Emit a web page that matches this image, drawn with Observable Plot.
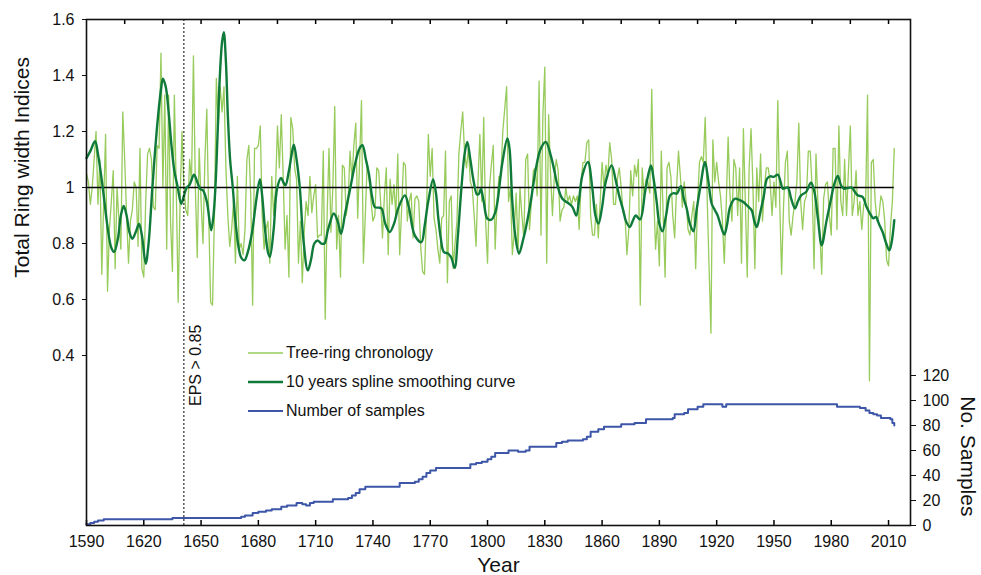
<!DOCTYPE html>
<html>
<head>
<meta charset="utf-8">
<script src="https://cdn.jsdelivr.net/npm/d3@7"></script>
<script src="https://cdn.jsdelivr.net/npm/@observablehq/plot@0.6"></script>
<style>
  html, body { margin: 0; padding: 0; background: #fff; }
  #wrap { position: relative; width: 981px; height: 575px; font-family: "Liberation Sans", Arial, Helvetica, sans-serif; }
  #legend { position: absolute; left: 248px; top: 338px; font-size: 16px; color: #111; }
  .row { display: flex; align-items: center; height: 29px; }
  .row svg { margin-right: 3px; }
</style>
</head>
<body>
<div id="wrap"><div id="chart"></div>
<div id="legend"></div></div>
<script>
// ---------- data ----------
const chronStart = 1590;
const chronology = [
  1.05,1.02,0.94,1.00,1.10,1.20,0.94,1.10,0.69,0.95,
  1.19,0.63,0.85,0.95,1.06,0.71,1.00,0.88,0.78,1.27,
  1.10,0.90,0.73,0.88,0.92,1.02,1.00,0.79,1.14,0.71,
  0.68,0.95,1.12,1.14,1.10,0.93,0.92,1.15,1.14,1.48,
  1.00,1.33,0.78,1.33,0.88,0.70,1.33,1.00,0.59,0.95,
  1.20,1.00,0.92,0.90,1.10,1.02,1.47,1.00,0.75,1.14,
  0.95,0.80,1.10,1.28,0.90,0.59,0.58,0.90,1.39,1.22,
  1.36,1.27,1.36,1.07,0.90,0.79,0.85,0.95,0.73,1.04,
  0.78,0.80,0.76,0.85,1.10,1.15,0.97,0.58,1.14,1.14,
  1.15,1.22,0.90,0.78,0.85,0.88,0.73,1.04,0.90,1.00,
  1.22,1.07,1.26,1.04,0.78,0.90,0.68,1.25,1.21,1.07,
  1.03,0.73,0.88,0.66,0.84,0.95,0.90,1.04,0.91,0.97,
  1.01,0.82,0.83,0.83,1.13,0.53,0.90,1.14,0.84,1.00,
  1.29,0.78,0.90,0.68,1.08,1.07,0.90,0.95,1.13,1.03,
  1.15,1.23,0.89,1.09,1.31,0.73,0.90,1.09,1.03,0.95,
  0.88,0.90,1.07,1.06,0.95,0.82,0.97,1.07,0.76,1.03,
  0.94,1.01,0.90,1.12,0.76,0.92,1.09,1.08,0.88,0.95,
  0.98,0.82,0.96,0.97,0.95,0.79,0.70,0.69,0.90,1.19,
  1.04,1.14,0.89,0.85,0.78,0.73,0.89,0.90,1.13,0.66,
  0.95,0.97,0.71,0.80,0.88,1.12,1.20,1.27,1.12,1.07,
  1.14,1.02,1.00,0.90,0.79,1.02,1.19,0.95,1.25,0.88,
  0.73,1.00,1.08,1.15,0.78,0.95,1.04,1.04,1.20,1.28,
  1.36,0.95,1.00,0.76,0.84,0.98,0.78,1.00,0.90,0.82,
  1.10,1.12,0.85,0.95,1.06,1.07,0.97,1.38,0.83,1.26,
  1.43,0.73,1.26,1.05,0.90,1.04,1.10,1.06,0.88,0.92,
  0.93,1.00,0.95,0.97,0.94,0.97,0.95,0.97,0.85,1.02,
  1.09,1.09,1.16,1.17,0.90,0.83,0.83,0.94,0.82,0.95,
  1.09,1.00,1.08,1.04,1.16,1.10,0.94,0.94,1.03,1.07,
  1.00,0.91,0.90,0.76,0.85,1.06,0.97,1.08,1.04,1.10,
  0.58,1.07,0.97,1.03,1.02,0.98,1.35,0.98,0.78,0.88,
  0.72,1.13,0.90,0.68,1.07,1.09,1.04,0.90,0.82,1.00,
  1.13,1.04,0.93,1.02,0.95,0.85,0.83,0.90,0.95,0.71,
  0.95,1.09,1.11,1.09,1.25,0.97,0.72,0.48,1.17,1.02,
  1.09,1.02,0.97,0.88,0.73,0.94,1.18,0.97,0.88,1.10,
  1.07,0.90,1.07,0.73,1.21,0.95,0.68,1.07,1.21,1.00,
  0.71,1.07,0.95,1.12,0.88,1.00,1.07,1.07,1.02,0.90,
  1.02,0.93,1.31,0.95,0.69,0.93,1.09,1.13,0.88,0.83,
  0.90,0.95,1.02,1.23,0.95,0.85,0.95,0.97,1.13,1.13,
  1.00,0.71,1.12,0.95,0.84,0.69,0.96,1.01,1.02,0.90,
  0.83,1.14,1.14,0.85,1.22,0.95,0.90,1.10,0.90,1.06,
  1.22,0.90,0.95,1.06,0.90,0.95,0.85,0.94,0.95,1.33,
  0.31,1.09,1.10,0.95,0.88,0.90,0.97,0.95,0.88,0.74,
  0.72,0.86,0.95,1.14
];

const smoothYears = [1590,1592,1594.5,1596,1598.5,1601,1603,1604.5,1606.5,1608,1609.5,1611,1612.5,1614,1616,1617.5,1619,1621,1622.5,1624.5,1627,1629,1630,1631.5,1633,1634.5,1636,1637.8,1639.6,1641,1642.5,1644,1646.3,1648,1649.5,1651,1653,1655.3,1656.5,1657.5,1658.7,1659.7,1661,1661.9,1663,1664,1665.2,1666.6,1668,1669.8,1671,1672.7,1674.5,1676.7,1679,1680.8,1682,1683.5,1685,1686,1688,1689.8,1691.9,1693,1694.2,1696,1698,1698.6,1700,1701.7,1703.5,1705.9,1707.5,1709.3,1711,1713,1714.6,1716.5,1719.5,1721.5,1723.3,1725.5,1728.2,1730.5,1733,1734.5,1736.3,1738,1739.5,1741,1743,1744.5,1746.5,1748.8,1751,1753.2,1756.7,1758.8,1761.9,1765.4,1767,1768.9,1771.5,1773,1774.1,1775.5,1777.1,1779.4,1781,1782.8,1784.5,1786.3,1788,1789.4,1791,1792.8,1794.5,1795.6,1796.5,1798,1799.9,1802,1804,1805.2,1807.8,1810.4,1811.5,1813,1814.5,1816.5,1818.5,1820,1822.6,1825.3,1827.9,1830.5,1833.1,1835,1836.6,1839.2,1842.7,1844.5,1846.5,1848,1849.7,1852.6,1854.9,1856.5,1858.1,1860,1861.9,1865,1867,1868.9,1871,1872.5,1874.5,1876,1877.6,1879.9,1882.5,1884,1885.6,1887,1888.6,1890,1891.6,1893.5,1895.6,1897.5,1899.1,1901.3,1902.8,1904.3,1906,1907.8,1909.5,1911.3,1913.9,1915.5,1917.4,1919,1920.5,1922.3,1924,1925.5,1927,1929.6,1932,1934,1936,1938.3,1939.7,1941,1942.8,1944.6,1946.4,1948.1,1949.9,1952,1953.5,1954.6,1957.2,1959,1961,1962.5,1964.2,1966.8,1969.4,1971.2,1973,1975,1977.5,1979.9,1981.5,1983.4,1985,1986.5,1988.6,1990.7,1992.3,1993.8,1996.5,1998.5,2000.8,2002,2003.4,2005,2006.9,2008.8,2010.4,2011.5,2013];
const smoothValues = [1.105,1.13,1.165,1.12,1.0,0.86,0.785,0.77,0.82,0.9,0.934,0.9,0.84,0.817,0.845,0.87,0.83,0.728,0.8,1.0,1.22,1.35,1.389,1.36,1.27,1.15,1.06,1.0,0.942,0.97,1.0,1.01,1.046,1.02,0.995,0.99,0.95,0.847,0.9,1.0,1.2,1.38,1.52,1.555,1.45,1.26,1.1,1.0,0.88,0.78,0.75,0.74,0.77,0.84,0.96,1.03,0.97,0.85,0.77,0.752,0.85,0.996,1.034,1.02,1.008,1.06,1.14,1.153,1.1,1.0,0.82,0.704,0.74,0.8,0.811,0.8,0.8,0.85,0.907,0.88,0.835,0.91,1.0,1.08,1.14,1.151,1.1,1.044,0.97,0.93,0.928,0.925,0.87,0.841,0.87,0.925,0.972,0.93,0.829,0.805,0.86,0.948,1.029,0.98,0.9,0.82,0.77,0.764,0.75,0.713,0.83,0.996,1.12,1.163,1.1,1.02,0.975,0.978,0.996,0.95,0.889,0.885,0.91,0.948,1.09,1.175,1.14,0.948,0.83,0.764,0.81,0.853,0.948,1.067,1.139,1.163,1.115,1.06,1.008,0.96,0.942,0.93,0.90,0.96,1.044,1.091,0.996,0.9,0.871,0.93,1.02,1.079,1.03,0.972,0.92,0.88,0.859,0.88,0.90,0.886,0.984,1.04,1.079,1.03,0.948,0.87,0.844,0.9,0.972,0.98,0.978,1.005,0.96,0.925,0.87,0.844,0.92,0.996,1.091,1.03,0.942,0.92,0.90,0.86,0.832,0.87,0.93,0.96,0.955,0.948,0.935,0.919,0.88,0.859,0.91,0.966,1.032,1.04,1.038,1.046,1.02,0.996,1.0,0.96,0.925,0.95,0.972,0.984,1.017,0.984,0.89,0.794,0.88,0.96,1.01,1.041,1.01,0.996,0.998,1.0,0.985,0.972,0.966,0.93,0.901,0.89,0.895,0.87,0.841,0.8,0.776,0.8,0.883];

const sampleYears  = [1590,1592,1594,1596,1599,1635,1671,1673,1677,1680,1684,1687,1692,1695,1700,1703,1705,1707,1709,1719,1727,1729,1731,1733,1736,1754,1762,1764,1766,1768,1770,1773,1791,1794,1797,1800,1802,1804,1811,1816,1820,1822,1836,1839,1842,1850,1852,1854,1858,1861,1870,1877,1883,1897,1898,1903,1905,1910,1913,1923,1925,1983,1995,1998,2000,2002,2004,2006,2011,2012,2013];
const sampleCounts = [1,2,3,4,5,6,7,8,10,11,12,13,15,16,18,17,16,18,19,21,22,24,26,29,31,34,35,37,39,42,44,46,49,50,51,53,55,58,60,59,60,63,66,67,68,69,71,75,77,79,81,82,85,86,89,90,93,95,97,95,97,95,94,92,90,89,88,86,85,82,80];

const xTickLabels = [1590,1620,1650,1680,1710,1740,1770,1800,1830,1860,1890,1920,1950,1980,2010];
const xTopTicks = [1610,1630,1650,1670,1690,1710,1730,1750,1770,1790,1810,1830,1850,1870,1890,1910,1930,1950,1970,1990,2010];
const indexTicks = [0.4,0.6,0.8,1,1.2,1.4,1.6];
const sampleTicks = [0,20,40,60,80,100,120];
const epsYear = 1641;
const epsLabel = "EPS > 0.85";
const labels = {
  left: "Total Ring width Indices",
  right: "No. Samples",
  x: "Year",
  chron: "Tree-ring chronology",
  smooth: "10 years spline smoothing curve",
  samples: "Number of samples"
};
const colors = { chron: "#97cb5b", smooth: "#0f7a3a", samples: "#3d56a8" };

// ---------- tables ----------
const chronData = chronology.map((v, i) => ({year: chronStart + i, v}));
const smoothData = smoothYears.map((y, i) => ({year: y, v: smoothValues[i]}));
const yDomain = [-0.207, 1.6];
const samplesToY = d3.scaleLinear([0, 404.8], yDomain);
const sampleData = sampleYears.map((y, i) => ({year: y, v: samplesToY(sampleCounts[i])}));
const lastYear = chronStart + chronology.length - 1;

const W = 981, H = 575, mT = 19, mB = 50, mL = 86, mR = 71;
const innerH = H - mT - mB;

const chart = Plot.plot({
  width: W, height: H,
  marginTop: mT, marginBottom: mB, marginLeft: mL, marginRight: mR,
  style: {fontFamily: '"Liberation Sans", Arial, Helvetica, sans-serif', background: "#fff", color: "#111", fontSize: "16px"},
  x: {domain: [1590, 2021.5]},
  y: {domain: yDomain},
  marks: [
    Plot.line(chronData, {x: "year", y: "v", stroke: colors.chron, strokeWidth: 1.3}),
    Plot.ruleY([1], {x1: chronStart, x2: lastYear, stroke: "#000", strokeWidth: 1.5}),
    Plot.line(smoothData, {x: "year", y: "v", stroke: colors.smooth, strokeWidth: 2.4, curve: "catmull-rom"}),
    Plot.line(sampleData, {x: "year", y: "v", stroke: colors.samples, strokeWidth: 2, curve: "step-after"}),
    Plot.ruleX([epsYear], {stroke: "#000", strokeWidth: 1, strokeDasharray: "2,2"}),
    Plot.text([epsLabel], {x: epsYear, y: 0.365, rotate: -90, dx: 12, fontSize: 16, fill: "#111", textAnchor: "middle"}),
    // axes
    Plot.axisX({anchor: "bottom", ticks: xTickLabels, tickSize: 0, tickPadding: 10, tickFormat: d => String(d), fontSize: 16,
      label: labels.x, labelAnchor: "center", labelArrow: "none", labelOffset: 46}),
    Plot.tickX(xTickLabels, {x: d => d, insetTop: innerH - 5, stroke: "#000", strokeWidth: 1.5}),
    Plot.tickX(xTopTicks, {x: d => d, insetBottom: innerH - 5, stroke: "#000", strokeWidth: 1.5}),
    Plot.axisY({anchor: "left", ticks: indexTicks, tickSize: 4, tickPadding: 8, tickFormat: d => String(+d.toFixed(1)), fontSize: 16, label: null}),
    Plot.axisY({anchor: "right", ticks: sampleTicks.map(n => samplesToY(n)), tickSize: 5, tickPadding: 7,
      tickFormat: d => String(Math.round(samplesToY.invert(d))), fontSize: 16, label: null}),
    Plot.frame({stroke: "#111", strokeWidth: 1.6}),
    Plot.text([labels.left], {frameAnchor: "left", y: 1.072, dx: -64, rotate: -90, fontSize: 21, fill: "#111", textAnchor: "middle"}),
    Plot.text([labels.right], {frameAnchor: "right", y: 0.04, dx: 57, rotate: 90, fontSize: 21, fill: "#111", textAnchor: "middle"})
  ]
});
chart.querySelectorAll("[aria-label='x-axis label'] text").forEach(t => t.setAttribute("font-size", "21"));
document.getElementById("chart").append(chart);

// legend
const legendItems = [
  {label: labels.chron, color: colors.chron, w: 1.3},
  {label: labels.smooth, color: colors.smooth, w: 2.4},
  {label: labels.samples, color: colors.samples, w: 2}
];
const leg = document.getElementById("legend");
legendItems.forEach(it => {
  const row = document.createElement("div");
  row.className = "row";
  row.innerHTML = `<svg width="35" height="10"><line x1="0" x2="35" y1="5" y2="5" stroke="${it.color}" stroke-width="${it.w}"/></svg><span>${it.label}</span>`;
  leg.append(row);
});
</script>
</body>
</html>
